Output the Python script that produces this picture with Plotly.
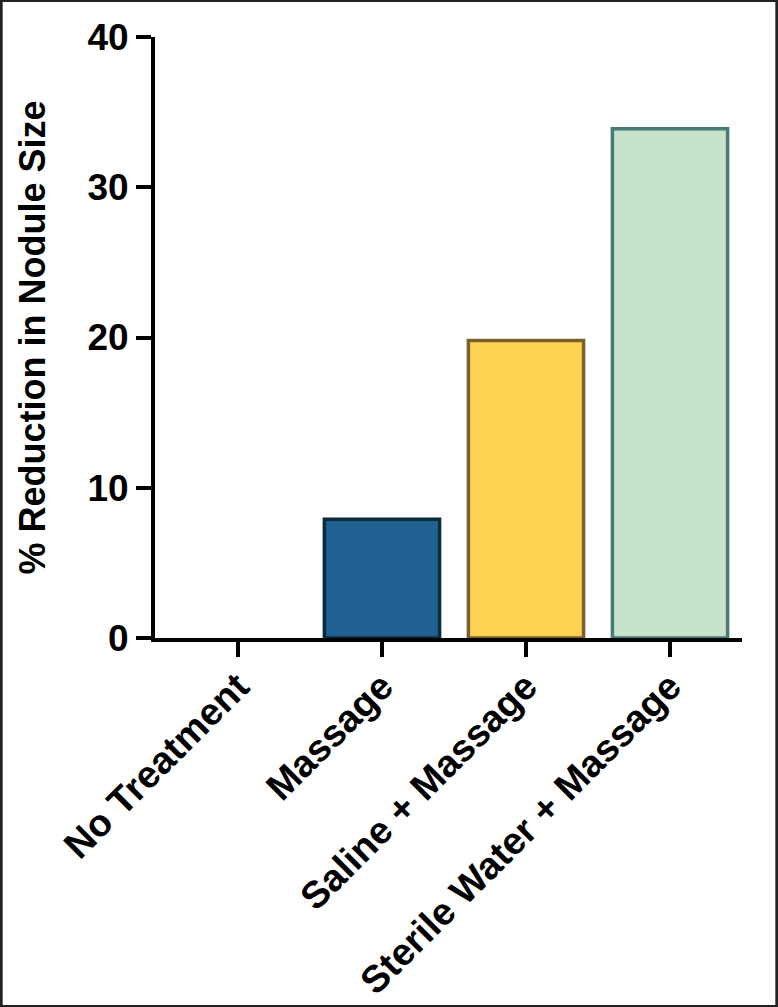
import plotly.graph_objects as go

# Treatment groups and % reduction
groups = ["No Treatment", "Massage", "Saline + Massage", "Sterile Water + Massage"]
reduction = [0, 7.9, 19.8, 33.9]
fills = ["#ffffff", "#1f6190", "#fdd252", "#c6e3cb"]
edges = ["#000000", "#0c2b3b", "#7a602e", "#4b7a74"]
edge_widths = [0, 3.5, 3.5, 3.5]
y_ticks = [0, 10, 20, 30, 40]

W, H = 778, 1007
L, R, T, B = 155, 36, 37, 369
pw, ph = W - L - R, H - T - B

fig = go.Figure(go.Bar(
    x=groups, y=reduction,
    width=0.8,
    marker=dict(color=fills, line=dict(color=edges, width=edge_widths)),
))

font_bold = dict(family="Arial, Liberation Sans, sans-serif", color="black", weight="bold")

fig.update_layout(
    width=W, height=H,
    margin=dict(l=L, r=R, t=T, b=B, pad=0),
    plot_bgcolor="white", paper_bgcolor="white",
    showlegend=False,
    shapes=[dict(type="rect", xref="paper", yref="paper",
                 x0=-L / pw + 0.002, x1=1 + R / pw - 0.002,
                 y0=-B / ph + 0.001, y1=1 + T / ph - 0.001,
                 line=dict(color="#222", width=3), layer="above")],
)

fig.update_xaxes(
    range=[-0.576, 3.5],
    automargin=False,
    showline=True, linecolor="black", linewidth=4,
    ticks="outside", ticklen=15, tickwidth=4, tickcolor="black",
    tickangle=-45,
    ticklabelstandoff=-8,
    tickfont=dict(size=38, **font_bold),
    showgrid=False, zeroline=False,
)

fig.update_yaxes(
    range=[0, 40],
    automargin=False,
    tickvals=y_ticks,
    showline=True, linecolor="black", linewidth=4,
    ticks="outside", ticklen=15, tickwidth=4, tickcolor="black",
    tickfont=dict(size=37, **font_bold),
    title=dict(text="% Reduction in Nodule Size", font=dict(size=36, **font_bold), standoff=32),
    showgrid=False, zeroline=False,
)

fig.write_html("out.html", config={"displayModeBar": False},
               post_script="document.body.style.margin='0';")
